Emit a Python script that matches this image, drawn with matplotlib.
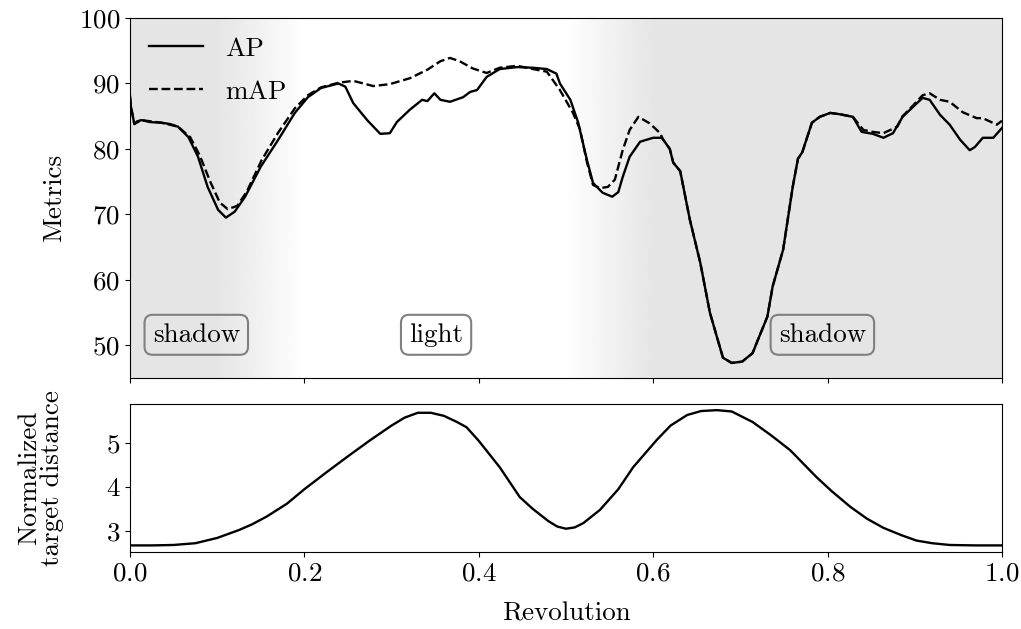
import numpy as np
import matplotlib
matplotlib.use("Agg")
import matplotlib.pyplot as plt

plt.rcParams["font.family"] = "serif"
plt.rcParams["font.serif"] = ["cmr10"]
plt.rcParams["mathtext.fontset"] = "cm"
plt.rcParams["axes.formatter.use_mathtext"] = True
plt.rcParams["font.size"] = 19.5

# ------------------------
# Data
# ------------------------
ap_x = [0.000, 0.001, 0.005, 0.008, 0.013, 0.023, 0.036, 0.046, 0.055, 0.067,
        0.078, 0.089, 0.101, 0.110, 0.120, 0.132, 0.150, 0.170, 0.189, 0.204,
        0.219, 0.239, 0.247, 0.256, 0.272, 0.287, 0.298, 0.306, 0.321, 0.335,
        0.341, 0.349, 0.356, 0.367, 0.382, 0.390, 0.398, 0.409, 0.424, 0.444,
        0.462, 0.478, 0.489, 0.493, 0.505, 0.514, 0.524, 0.531, 0.542, 0.553,
        0.560, 0.565, 0.573, 0.585, 0.600, 0.610, 0.619, 0.623, 0.631, 0.642,
        0.654, 0.665, 0.673, 0.680, 0.690, 0.702, 0.714, 0.720, 0.731, 0.737,
        0.749, 0.760, 0.766, 0.771, 0.782, 0.791, 0.803, 0.814, 0.829, 0.839,
        0.852, 0.864, 0.875, 0.886, 0.897, 0.909, 0.917, 0.929, 0.940, 0.952,
        0.963, 0.969, 0.978, 0.990, 1.000]
ap_y = [88.0, 86.5, 83.8, 84.2, 84.4, 84.1, 84.0, 83.8, 83.4, 81.8,
        78.8, 74.2, 70.7, 69.5, 70.4, 72.7, 77.3, 81.4, 85.5, 87.9,
        89.3, 90.0, 89.5, 87.0, 84.4, 82.3, 82.4, 84.1, 86.0, 87.5,
        87.3, 88.5, 87.5, 87.2, 87.9, 88.7, 89.0, 91.0, 92.2, 92.5,
        92.4, 92.2, 91.5, 90.0, 87.5, 84.0, 78.3, 74.8, 73.3, 72.7,
        73.4, 75.7, 78.8, 81.1, 81.7, 81.7, 80.0, 77.9, 76.6, 69.2,
        62.6, 55.0, 51.3, 48.1, 47.3, 47.5, 48.8, 50.8, 54.4, 59.0,
        64.6, 74.2, 78.5, 79.5, 84.0, 84.9, 85.5, 85.3, 84.9, 82.6,
        82.3, 81.7, 82.4, 84.9, 86.3, 87.8, 87.5, 85.2, 83.7, 81.4,
        79.8, 80.3, 81.7, 81.7, 83.2]

map_x = [0.000, 0.001, 0.005, 0.013, 0.036, 0.055, 0.069, 0.080, 0.092, 0.103,
         0.112, 0.123, 0.134, 0.151, 0.170, 0.189, 0.204, 0.219, 0.239, 0.256,
         0.279, 0.298, 0.321, 0.341, 0.356, 0.367, 0.378, 0.393, 0.409, 0.424,
         0.444, 0.462, 0.478, 0.493, 0.508, 0.516, 0.524, 0.531, 0.539, 0.548,
         0.556, 0.565, 0.573, 0.583, 0.596, 0.608, 0.611, 0.619, 0.623, 0.631,
         0.642, 0.654, 0.665, 0.673, 0.680, 0.690, 0.702, 0.714, 0.720, 0.731,
         0.737, 0.749, 0.760, 0.766, 0.771, 0.782, 0.791, 0.803, 0.814, 0.829,
         0.841, 0.852, 0.864, 0.880, 0.886, 0.897, 0.909, 0.917, 0.929, 0.940,
         0.955, 0.971, 0.978, 0.994, 1.000]
map_y = [88.0, 86.5, 83.8, 84.4, 84.0, 83.4, 81.8, 79.0, 75.0, 71.8,
         70.8, 71.3, 73.5, 78.3, 82.5, 86.2, 88.2, 89.4, 90.1, 90.4,
         89.6, 89.9, 90.8, 92.1, 93.4, 93.9, 93.4, 92.3, 91.6, 92.4,
         92.7, 92.2, 91.8, 89.0, 85.5, 83.0, 78.0, 74.5, 74.0, 74.2,
         75.3, 79.8, 82.9, 84.9, 83.9, 82.4, 81.5, 80.0, 77.9, 76.6,
         69.2, 62.6, 55.0, 51.3, 48.1, 47.3, 47.5, 48.8, 50.8, 54.4,
         59.0, 64.6, 74.2, 78.5, 79.5, 84.0, 84.9, 85.5, 85.3, 84.9,
         82.9, 82.6, 82.4, 83.4, 85.0, 86.5, 88.2, 88.5, 87.5, 87.2,
         85.6, 84.7, 84.7, 83.7, 84.3]

dist_x = [0.000, 0.025, 0.050, 0.075, 0.100, 0.125, 0.140, 0.157, 0.180, 0.200,
          0.225, 0.250, 0.275, 0.300, 0.315, 0.330, 0.345, 0.360, 0.375, 0.386,
          0.400, 0.424, 0.447, 0.462, 0.480, 0.490, 0.500, 0.510, 0.520, 0.539,
          0.560, 0.577, 0.604, 0.620, 0.639, 0.655, 0.673, 0.690, 0.714, 0.735,
          0.757, 0.787, 0.805, 0.826, 0.845, 0.864, 0.885, 0.902, 0.920, 0.940,
          0.970, 1.000]
dist_y = [2.67, 2.67, 2.68, 2.72, 2.84, 3.02, 3.15, 3.33, 3.62, 3.95,
          4.33, 4.70, 5.06, 5.40, 5.58, 5.69, 5.69, 5.62, 5.48, 5.36,
          5.05, 4.45, 3.77, 3.50, 3.22, 3.10, 3.05, 3.08, 3.18, 3.48,
          3.95, 4.45, 5.07, 5.40, 5.64, 5.73, 5.75, 5.72, 5.48, 5.18,
          4.84, 4.23, 3.90, 3.55, 3.28, 3.07, 2.90, 2.78, 2.72, 2.68,
          2.67, 2.67]

labels = ["shadow", "light", "shadow"]
label_x = [0.076, 0.351, 0.794]
label_y = 51.6

# ------------------------
# Plot
# ------------------------
fig = plt.figure(figsize=(10.21, 6.29), dpi=100)
ax0 = fig.add_axes([130 / 1021, 1 - 378 / 629, 872 / 1021, 360 / 629])
ax1 = fig.add_axes([130 / 1021, 1 - 552 / 629, 872 / 1021, 148 / 629], sharex=ax0)

# background: shadow / light with soft transitions
gray = 0.898
ramp = np.linspace(0, 1, 256)[None, :]
ax0.axvspan(0.0, 0.1, color=str(gray), lw=0, zorder=0)
ax0.axvspan(0.6, 1.0, color=str(gray), lw=0, zorder=0)
ax0.imshow(gray + (1 - gray) * ramp, extent=[0.1, 0.2, 45, 100], aspect="auto",
           cmap="gray", vmin=0, vmax=1, zorder=0)
ax0.imshow(1 - (1 - gray) * ramp, extent=[0.5, 0.6, 45, 100], aspect="auto",
           cmap="gray", vmin=0, vmax=1, zorder=0)

ax0.plot(ap_x, ap_y, color="black", lw=1.7, label="AP")
ax0.plot(map_x, map_y, color="black", lw=1.7, ls="--", label="mAP")
ax0.set_xlim(0, 1)
ax0.set_ylim(45, 100)
ax0.set_yticks([50, 60, 70, 80, 90, 100])
ax0.set_ylabel("Metrics", labelpad=9)
ax0.tick_params(labelbottom=False)
ax0.legend(loc="upper left", frameon=False, handlelength=2.0,
           borderaxespad=0.3, labelspacing=0.7)

for t, x in zip(labels, label_x):
    ax0.text(x, label_y, t, ha="center", va="center",
             bbox=dict(boxstyle="round,pad=0.3", fc="none", ec="gray", lw=1.5))

ax1.plot(dist_x, dist_y, color="black", lw=1.7)
ax1.set_ylim(2.52, 5.89)
ax1.set_yticks([3, 4, 5])
ax1.set_xticks([0.0, 0.2, 0.4, 0.6, 0.8, 1.0])
ax1.set_xlabel("Revolution", labelpad=12)
ax1.set_ylabel("Normalized\ntarget distance", labelpad=30, linespacing=0.95)

fig.savefig("out.png", dpi=100)
